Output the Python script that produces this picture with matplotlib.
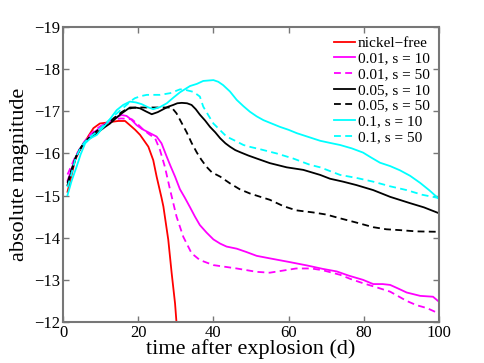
import matplotlib
matplotlib.use("Agg")
import matplotlib.pyplot as plt

plt.rcParams['font.family'] = ['Liberation Serif', 'DejaVu Serif']

# nickel-free
t_ni0 = [1.2, 2.2, 3.2, 4.3, 5.4, 6.8, 8.1, 9.8, 11.5, 13, 14.7, 16.5, 17.8, 19.2, 20.5, 21.6, 22.7, 24, 24.9,
         26.2, 26.7, 28, 28.9, 29.8, 30.2, 30.8]
m_ni0 = [-15.09, -15.45, -15.84, -16.05, -16.2, -16.42, -16.6, -16.71, -16.73, -16.75, -16.77, -16.77, -16.67, -16.56,
         -16.44, -16.3, -16.16, -15.84, -15.45, -14.95, -14.74, -13.95, -13.16, -12.44, -11.97, -11.4]

# 0.01, s = 10
t_a10 = [1.2, 2.2, 3.4, 4.5, 5.6, 7, 8.5, 10, 11.5, 13, 14.4, 15.6, 16.9, 18.2, 19.6, 21, 22.3, 23.6, 24.9, 26.2, 27.6,
         28.6, 29.8, 31.1, 32.4, 33.8, 35.1, 36.4, 38.2, 40, 41.8, 43.5, 46.2, 48.8, 51.5, 55, 60.4, 65, 69.1, 72.8,
         76, 79.8, 82.5, 85, 87, 89, 91.4, 95, 98.4, 100]
m_a10 = [-15.35, -15.6, -15.9, -16.1, -16.25, -16.4, -16.52, -16.62, -16.72, -16.8, -16.87, -16.91, -16.89, -16.8, -16.67,
         -16.58, -16.52, -16.46, -16.4, -16.24, -15.92, -15.7, -15.45, -15.15, -14.95, -14.72, -14.5, -14.3, -14.12, -13.96,
         -13.86, -13.79, -13.74, -13.66, -13.57, -13.51, -13.42, -13.34, -13.26, -13.2, -13.1, -13.0, -12.9, -12.9, -12.88,
         -12.8, -12.7, -12.62, -12.6, -12.48]

# 0.01, s = 50
t_a50 = [1.2, 2.2, 3.4, 4.5, 5.6, 7, 8.5, 10, 11.5, 13, 14.4, 15.6, 17, 18.3, 19.8, 21.4, 23, 24.5, 25.8, 27.1,
         28.5, 30.2, 32, 34.2, 36.4, 40, 46.2, 51.5, 55, 58.5, 62, 66, 69, 73.7, 76.5, 79.8, 83.5, 87, 91.4, 94,
         96.8, 100]
m_a50 = [-15.5, -15.7, -15.95, -16.12, -16.27, -16.43, -16.55, -16.65, -16.72, -16.78, -16.82, -16.83, -16.82, -16.81,
         -16.7, -16.56, -16.45, -16.36, -16.08, -15.68, -15.13, -14.5, -14.02, -13.63, -13.47, -13.35, -13.27, -13.19,
         -13.17, -13.22, -13.27, -13.27, -13.23, -13.12, -13.02, -12.92, -12.82, -12.72, -12.5, -12.4, -12.33, -12.2]

# 0.05, s = 10
t_b10 = [1.2, 2.2, 3.4, 4.5, 5.6, 7, 8.5, 10, 11.2, 12.5, 14, 15.6, 17.8, 19.2, 20.5, 22, 23.6, 25.2, 26.7, 28, 29.3,
         30.4, 31.6, 33, 34.2, 35.3, 36.4, 37.8, 39.1, 40.5, 41.8, 43.2, 44.4, 45.8, 47.1, 49.3, 51.5, 55, 59.5, 63.9,
         68.4, 71, 74.5, 78, 82.5, 87, 92.3, 96, 100]
m_b10 = [-15.25, -15.55, -15.9, -16.1, -16.25, -16.35, -16.45, -16.55, -16.63, -16.71, -16.83, -16.95, -17.09, -17.09,
         -17.07, -17.0, -16.93, -16.98, -17.05, -17.11, -17.15, -17.19, -17.2, -17.19, -17.15, -17.05, -16.92, -16.78,
         -16.63, -16.5, -16.36, -16.24, -16.16, -16.08, -16.03, -15.95, -15.88, -15.77, -15.67, -15.61, -15.49, -15.4,
         -15.33, -15.25, -15.13, -14.97, -14.82, -14.72, -14.58]

# 0.05, s = 50
t_b50 = [1.2, 2.2, 3.4, 4.5, 5.6, 7, 8.5, 10, 11.5, 13, 14.4, 15.6, 16.9, 18.5, 20.5, 23, 25.8, 28.9, 30.2, 31.4,
         32.9, 34.2, 35.6, 36.8, 38.2, 39.6, 41.8, 44.4, 47, 49.7, 52.5, 55, 58.6, 62, 66.5, 70, 73.7, 78, 82.5,
         86, 89.6, 94, 100]
m_b50 = [-15.3, -15.6, -15.92, -16.1, -16.25, -16.38, -16.5, -16.6, -16.7, -16.8, -16.9, -16.98, -17.05, -17.08,
         -17.09, -17.09, -17.09, -17.09, -16.95, -16.75, -16.5, -16.25, -16.02, -15.85, -15.68, -15.55, -15.45,
         -15.29, -15.15, -15.05, -14.97, -14.9, -14.75, -14.65, -14.6, -14.55, -14.46, -14.36, -14.25, -14.2,
         -14.18, -14.15, -14.14]

# 0.1, s = 10
t_c10 = [1.2, 2.3, 3.6, 4.7, 5.9, 7.3, 9, 10.5, 12, 13.2, 14.3, 16, 17.8, 19.4, 20.9, 22.5, 24, 25.8, 27.6, 29.3,
         31.1, 33.8, 35.6, 37.3, 40, 41.3, 42.6, 44.4, 46.2, 48, 49.7, 51.5, 53.3, 55.5, 57.7, 60, 62.2, 65.3, 68.4,
         71, 73.7, 76.8, 79.8, 82, 84.3, 87, 89.6, 92.3, 95, 97.5, 100]
m_c10 = [-15.01, -15.35, -15.68, -15.98, -16.24, -16.36, -16.44, -16.6, -16.75, -16.9, -17.03, -17.15, -17.23, -17.21,
         -17.17, -17.1, -17.05, -17.1, -17.19, -17.32, -17.45, -17.6, -17.65, -17.72, -17.74, -17.7, -17.62, -17.47,
         -17.27, -17.12, -16.99, -16.88, -16.79, -16.71, -16.63, -16.56, -16.48, -16.39, -16.3, -16.25, -16.2, -16.12,
         -16.02, -15.9, -15.78, -15.7, -15.6, -15.47, -15.3, -15.12, -14.92]

# 0.1, s = 50
t_c50 = [1.2, 2.2, 3.4, 4.5, 5.6, 7, 8.5, 10, 11.5, 13, 14.3, 15.6, 16.9, 18, 19.1, 20.7, 22.3, 25.8, 28.5, 31.1,
         32, 34.7, 36.4, 37.3, 38.7, 40, 41.8, 43.5, 45.8, 48, 50, 52.4, 56.8, 61.2, 65.7, 68.4, 73.7, 78, 82.5,
         87, 91.4, 95.5, 100]
m_c50 = [-15.2, -15.5, -15.9, -16.1, -16.25, -16.38, -16.48, -16.6, -16.73, -16.85, -16.95, -17.05, -17.15, -17.24,
         -17.31, -17.36, -17.39, -17.39, -17.43, -17.52, -17.52, -17.46, -17.35, -17.11, -16.9, -16.71, -16.55,
         -16.4, -16.3, -16.2, -16.15, -16.1, -16.0, -15.88, -15.73, -15.67, -15.49, -15.42, -15.33, -15.22, -15.13,
         -15.02, -14.94]

labels = ['nickel\u2212free', '0.01, s = 10', '0.01, s = 50', '0.05, s = 10',
          '0.05, s = 50', '0.1, s = 10', '0.1, s = 50']

xticks = [0, 20, 40, 60, 80, 100]
yticks = [-19, -18, -17, -16, -15, -14, -13, -12]

fig = plt.figure(figsize=(4.85, 3.63), dpi=100)
ax = fig.add_axes([63/485, 41/363, 376/485, 295/363])

lw = 1.3
dash = (0, (3.8, 2.4))
kw = dict(lw=lw, solid_joinstyle='round', dash_joinstyle='round')
ax.plot(t_ni0, m_ni0, color='red', label=labels[0], **kw)
ax.plot(t_a10, m_a10, color='magenta', label=labels[1], **kw)
ax.plot(t_a50, m_a50, color='magenta', ls=dash, label=labels[2], **kw)
ax.plot(t_b10, m_b10, color='black', label=labels[3], **kw)
ax.plot(t_b50, m_b50, color='black', ls=dash, label=labels[4], **kw)
ax.plot(t_c10, m_c10, color='cyan', label=labels[5], **kw)
ax.plot(t_c50, m_c50, color='cyan', ls=dash, label=labels[6], **kw)

ax.set_xlim(0, 100)
ax.set_ylim(-12, -19)
ax.set_xticks(xticks)
ax.set_yticks(yticks)
ax.set_yticklabels(['\u2212%d' % abs(v) for v in yticks])

for s in ax.spines.values():
    s.set_color('#777777')
    s.set_linewidth(1.5)
ax.tick_params(direction='in', top=True, right=True, length=4, width=1,
               color='#777777', labelsize=12, pad=2)

ax.set_xlabel('time after explosion (d)', fontsize=16, labelpad=-1)
ax.set_ylabel('absolute magnitude', fontsize=16, labelpad=4)

leg = ax.legend(loc='upper right', frameon=False, fontsize=11, handlelength=1.4,
                handletextpad=0.2, labelspacing=0.13, borderaxespad=0.2)

fig.savefig('out.png', dpi=100)
